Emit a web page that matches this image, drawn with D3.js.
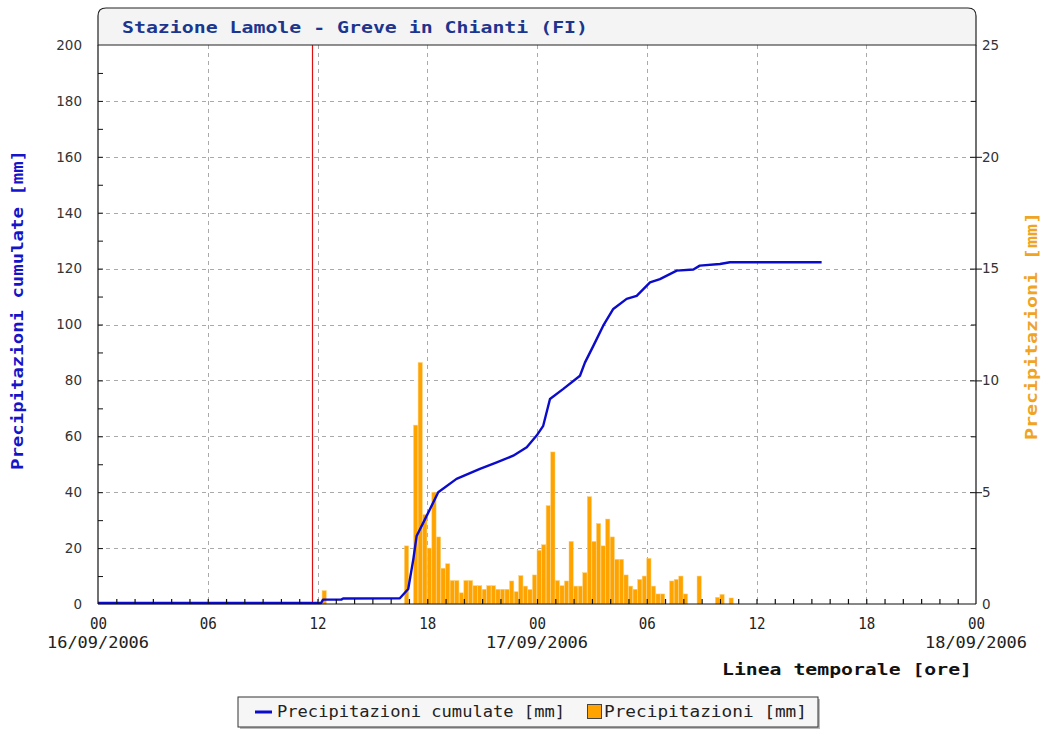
<!DOCTYPE html>
<html>
<head>
<meta charset="utf-8">
<script src="https://cdn.jsdelivr.net/npm/d3@7"></script>
<style>
  html, body { margin: 0; padding: 0; background: #fff; }
  svg { display: block; }
</style>
</head>
<body>
<svg id="chart" width="1042" height="729"></svg>
<script>
// hours counted from 16/09/2006 00:00
const barTimes = [12.25, 16.75, 17.25, 17.5, 17.75, 18, 18.25, 18.5, 18.75, 19,
  19.25, 19.5, 19.75, 20, 20.25, 20.5, 20.75, 21, 21.25, 21.5, 21.75, 22, 22.25,
  22.5, 22.75, 23, 23.25, 23.5, 23.75, 24, 24.25, 24.5, 24.75, 25, 25.25, 25.5,
  25.75, 26, 26.25, 26.5, 26.75, 27, 27.25, 27.5, 27.75, 28, 28.25, 28.5, 28.75,
  29, 29.25, 29.5, 29.75, 30, 30.25, 30.5, 30.75, 31.25, 31.5, 31.75, 32, 32.75,
  33.75, 34, 34.5];
const barValues = [0.6, 2.6, 8.0, 10.8, 4.0, 2.5, 5.0, 3.0, 1.6, 1.8,
  1.05, 1.05, 0.5, 1.05, 1.05, 0.82, 0.82, 0.66, 0.82, 0.82, 0.66, 0.66, 0.66,
  1.03, 0.55, 1.27, 0.8, 0.65, 1.3, 2.4, 2.65, 4.4, 6.8, 1.05, 0.82, 1.03,
  2.8, 0.8, 0.8, 1.4, 4.8, 2.8, 3.6, 2.6, 3.8, 3.0, 2.0, 2.0, 1.3,
  0.8, 0.66, 1.1, 1.25, 2.04, 0.8, 0.45, 0.45, 1.03, 1.1, 1.25, 0.45, 1.25,
  0.3, 0.43, 0.27];
const barStep = 0.25;

const cumTimes = [0, 12.2, 12.3, 13.3, 13.4, 16.5, 16.96, 17.24, 17.42, 17.88,
  18.33, 18.6, 19.6, 20.88, 21.8, 22.7, 23.44, 23.98, 24.34, 24.71, 25.44, 26.35,
  26.62, 27.08, 27.62, 28.17, 28.9, 29.45, 30.18, 30.72, 31.64, 32.55, 32.9, 34.0,
  34.55, 39.56];
const cumValues = [0, 0, 1.2, 1.2, 1.6, 1.7, 5, 15.7, 24, 30,
  36, 39.6, 44.4, 48, 50.3, 52.7, 55.7, 59.9, 63.4, 73, 76.6, 81.3,
  86, 92, 99.2, 105.2, 108.8, 109.9, 114.7, 115.9, 118.9, 119.3, 120.7, 121.3,
  121.9, 121.9];

const markerTime = 11.7;

const leftTicks = [0, 20, 40, 60, 80, 100, 120, 140, 160, 180, 200];
const rightTicks = [0, 5, 10, 15, 20, 25];
const hourTicks = [0, 6, 12, 18, 24, 30, 36, 42, 48];
const hourLabels = ['00', '06', '12', '18', '00', '06', '12', '18', '00'];
const dateTicks = [0, 24, 48];
const dateLabels = ['16/09/2006', '17/09/2006', '18/09/2006'];

const titleText = 'Stazione Lamole - Greve in Chianti (FI)';
const leftTitle = 'Precipitazioni cumulate [mm]';
const rightTitle = 'Precipitazioni [mm]';
const xTitle = 'Linea temporale [ore]';

const plot = { left: 98, right: 976, top: 45, bottom: 604 };
const mono = "'DejaVu Sans Mono', 'Liberation Mono', monospace";
const sans = "'DejaVu Sans', Verdana, sans-serif";
const blue = '#0b0bcc';
const orange = '#ffa300';

const svg = d3.select('#chart');

const x = d3.scaleLinear().domain([0, 48]).range([plot.left, plot.right]);
const yLeft = d3.scaleLinear().domain([0, 200]).range([plot.bottom, plot.top]);
const yRight = d3.scaleLinear().domain([0, 25]).range([plot.bottom, plot.top]);

// grid
const grid = svg.append('g')
  .attr('stroke', '#aaa')
  .attr('stroke-width', 1)
  .attr('stroke-dasharray', '4 4');

grid.selectAll('line.h')
  .data(leftTicks.filter((v) => v > 0 && v < 200))
  .enter()
  .append('line')
  .attr('x1', plot.left)
  .attr('x2', plot.right)
  .attr('y1', (v) => Math.round(yLeft(v)) + 0.5)
  .attr('y2', (v) => Math.round(yLeft(v)) + 0.5);

grid.selectAll('line.v')
  .data(hourTicks.filter((h) => h > 0 && h < 48))
  .enter()
  .append('line')
  .attr('y1', plot.top)
  .attr('y2', plot.bottom)
  .attr('x1', (h) => Math.round(x(h)) + 0.5)
  .attr('x2', (h) => Math.round(x(h)) + 0.5);

// bars
const bars = barTimes.map((t, i) => ({ t, v: barValues[i] }));
svg.append('g')
  .selectAll('rect')
  .data(bars)
  .enter()
  .append('rect')
  .attr('x', (d) => x(d.t))
  .attr('width', (d) => x(d.t + barStep) - x(d.t) - 0.3)
  .attr('y', (d) => yRight(d.v))
  .attr('height', (d) => yRight(0) - yRight(d.v))
  .attr('fill', orange)
  .attr('stroke', '#fbd27a')
  .attr('stroke-width', 0.5);

// time marker
svg.append('line')
  .attr('x1', Math.round(x(markerTime)) + 0.5)
  .attr('x2', Math.round(x(markerTime)) + 0.5)
  .attr('y1', plot.top)
  .attr('y2', plot.bottom)
  .attr('stroke', '#e01010')
  .attr('stroke-width', 1.2);

// cumulative line
const cum = cumTimes.map((t, i) => ({ t, v: cumValues[i] }));
svg.append('path')
  .datum(cum)
  .attr('fill', 'none')
  .attr('stroke', blue)
  .attr('stroke-width', 2.4)
  .attr('stroke-linejoin', 'round')
  .attr('d', d3.line().x((d) => x(d.t)).y((d) => yLeft(d.v) - 1));

// axes
const axisColor = '#111';
const tickText = (g, size) => g.selectAll('text')
  .attr('fill', '#333')
  .attr('font-family', sans)
  .attr('font-size', size);

svg.append('g')
  .attr('transform', `translate(${plot.left},0)`)
  .call(d3.axisLeft(yLeft).tickValues(leftTicks).tickSize(0).tickPadding(16))
  .call((g) => g.select('.domain').remove())
  .call((g) => tickText(g, 13.5));

svg.append('g')
  .attr('transform', `translate(${plot.left},0)`)
  .call(d3.axisRight(yLeft).tickValues(d3.range(10, 200, 10)).tickSize(5).tickFormat(''))
  .call((g) => g.select('.domain').remove())
  .call((g) => g.selectAll('line').attr('stroke', axisColor));

svg.append('g')
  .attr('transform', `translate(${plot.right},0)`)
  .call(d3.axisRight(yRight).tickValues(rightTicks).tickSize(0).tickPadding(6))
  .call((g) => g.select('.domain').remove())
  .call((g) => tickText(g, 13.5));

svg.append('g')
  .attr('transform', `translate(${plot.right - 6},0)`)
  .call(d3.axisRight(yRight).tickValues([5, 10, 15, 20]).tickSize(12).tickFormat(''))
  .call((g) => g.select('.domain').remove())
  .call((g) => g.selectAll('line').attr('stroke', axisColor));

svg.append('g')
  .attr('transform', `translate(${plot.right},0)`)
  .call(d3.axisLeft(yRight).tickValues(d3.range(2.5, 25, 5)).tickSize(5).tickFormat(''))
  .call((g) => g.select('.domain').remove())
  .call((g) => g.selectAll('line').attr('stroke', axisColor));

svg.append('g')
  .attr('transform', `translate(0,${plot.bottom})`)
  .call(d3.axisTop(x).tickValues(d3.range(1, 48, 1)).tickSize(5).tickFormat(''))
  .call((g) => g.select('.domain').remove())
  .call((g) => g.selectAll('line').attr('stroke', axisColor).attr('stroke-width', 1.2));

svg.append('g')
  .attr('transform', `translate(0,${plot.bottom})`)
  .call(d3.axisBottom(x).tickValues(hourTicks).tickSize(0).tickPadding(14)
    .tickFormat((h, i) => hourLabels[i]))
  .call((g) => g.select('.domain').remove())
  .call((g) => g.selectAll('text')
    .attr('fill', '#222')
    .attr('font-family', mono)
    .attr('font-size', 15)
    .attr('textLength', 17)
    .attr('lengthAdjust', 'spacingAndGlyphs'));

svg.append('g')
  .selectAll('text')
  .data(dateTicks)
  .enter()
  .append('text')
  .attr('x', (h) => x(h))
  .attr('y', 648)
  .attr('text-anchor', 'middle')
  .attr('fill', '#222')
  .attr('font-family', mono)
  .attr('font-size', 15)
  .attr('textLength', 102)
  .attr('lengthAdjust', 'spacingAndGlyphs')
  .text((h, i) => dateLabels[i]);

// frame
const frame = svg.append('g').attr('stroke', axisColor).attr('stroke-width', 1.2);
frame.append('line')
  .attr('x1', plot.left).attr('x2', plot.left)
  .attr('y1', plot.top).attr('y2', plot.bottom);
frame.append('line')
  .attr('x1', plot.right).attr('x2', plot.right)
  .attr('y1', plot.top).attr('y2', plot.bottom);
frame.append('line')
  .attr('x1', plot.left).attr('x2', plot.right)
  .attr('y1', plot.bottom).attr('y2', plot.bottom);

// title box
const r = 8;
svg.append('path')
  .attr('d', `M${plot.left},${plot.top} V${8 + r} Q${plot.left},8 ${plot.left + r},8 ` +
    `H${plot.right - r} Q${plot.right},8 ${plot.right},${8 + r} V${plot.top} Z`)
  .attr('fill', '#f4f4f4')
  .attr('stroke', '#222')
  .attr('stroke-width', 1.2);

svg.append('text')
  .attr('x', 122)
  .attr('y', 33)
  .attr('fill', '#1c358e')
  .attr('font-family', mono)
  .attr('font-weight', 'bold')
  .attr('font-size', 16)
  .attr('textLength', 466)
  .attr('lengthAdjust', 'spacingAndGlyphs')
  .text(titleText);

// axis titles
svg.append('text')
  .attr('transform', 'translate(23,310) rotate(-90)')
  .attr('text-anchor', 'middle')
  .attr('fill', '#1414c8')
  .attr('font-family', mono)
  .attr('font-weight', 'bold')
  .attr('font-size', 15)
  .attr('textLength', 320)
  .attr('lengthAdjust', 'spacingAndGlyphs')
  .text(leftTitle);

svg.append('text')
  .attr('transform', 'translate(1037,326) rotate(-90)')
  .attr('text-anchor', 'middle')
  .attr('fill', '#f0a424')
  .attr('font-family', mono)
  .attr('font-weight', 'bold')
  .attr('font-size', 15)
  .attr('textLength', 228)
  .attr('lengthAdjust', 'spacingAndGlyphs')
  .text(rightTitle);

svg.append('text')
  .attr('x', 972)
  .attr('y', 675)
  .attr('text-anchor', 'end')
  .attr('fill', '#111')
  .attr('font-family', mono)
  .attr('font-weight', 'bold')
  .attr('font-size', 16)
  .attr('textLength', 250)
  .attr('lengthAdjust', 'spacingAndGlyphs')
  .text(xTitle);

// legend
const legend = svg.append('g').attr('transform', 'translate(238,697)');
legend.append('rect')
  .attr('x', 2).attr('y', 2)
  .attr('width', 580).attr('height', 30)
  .attr('fill', '#bbb');
legend.append('rect')
  .attr('width', 580).attr('height', 30)
  .attr('fill', '#f6f6f6')
  .attr('stroke', '#333');
legend.append('line')
  .attr('x1', 17).attr('x2', 34)
  .attr('y1', 15).attr('y2', 15)
  .attr('stroke', blue)
  .attr('stroke-width', 3);
legend.append('text')
  .attr('x', 39).attr('y', 20)
  .attr('fill', '#222')
  .attr('font-family', mono)
  .attr('font-size', 15)
  .attr('textLength', 288)
  .attr('lengthAdjust', 'spacingAndGlyphs')
  .text(leftTitle);
legend.append('rect')
  .attr('x', 349.5).attr('y', 7.5)
  .attr('width', 14).attr('height', 14)
  .attr('fill', orange)
  .attr('stroke', '#444');
legend.append('text')
  .attr('x', 366).attr('y', 20)
  .attr('fill', '#222')
  .attr('font-family', mono)
  .attr('font-size', 15)
  .attr('textLength', 203)
  .attr('lengthAdjust', 'spacingAndGlyphs')
  .text(rightTitle);
</script>
</body>
</html>
